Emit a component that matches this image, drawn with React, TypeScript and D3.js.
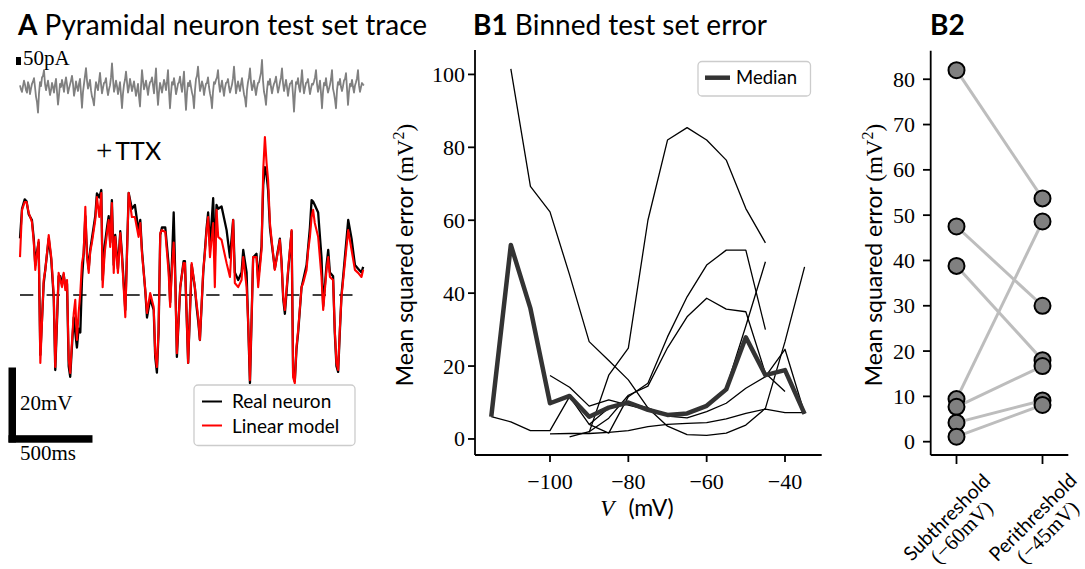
import React from 'react';
import * as d3 from 'd3';

const SANS = "Lato, 'DejaVu Sans', sans-serif";
const SERIF = "'Liberation Serif', 'DejaVu Serif', serif";

// ---------- Panel A: test set trace ----------
const traceDurationMs = 2048;
const restMv = -70;
const traceTimeMs = [
  0, 12, 28, 39, 52, 71, 82, 91, 99, 111, 121, 141, 151, 171, 186, 201, 210, 230, 240, 250,
  260, 270, 280, 290, 299, 309, 320, 329, 339, 349, 359, 369, 379, 389, 399, 409, 418, 428, 448, 458,
  472, 484, 492, 504, 518, 528, 537, 547, 558, 567, 583, 597, 607, 627, 647, 666, 684, 706, 716, 726,
  746, 756, 775, 796, 805, 815, 825, 835, 845, 865, 885, 894, 904, 915, 924, 934, 954, 974, 982, 1001,
  1022, 1041, 1051, 1061, 1071, 1091, 1101, 1111, 1120, 1131, 1150, 1160, 1170, 1180, 1200, 1230, 1250, 1269, 1279, 1299,
  1319, 1329, 1349, 1358, 1369, 1379, 1388, 1408, 1418, 1438, 1448, 1458, 1468, 1477, 1488, 1498, 1517, 1547, 1557, 1567,
  1577, 1596, 1617, 1626, 1636, 1646, 1656, 1676, 1686, 1706, 1716, 1726, 1736, 1745, 1755, 1775, 1795, 1805, 1825, 1835,
  1845, 1864, 1874, 1884, 1894, 1904, 1914, 1924, 1954, 1974, 1994, 2013, 2033, 2043,
];
const linearModelMv = [
  -59.9, -47.3, -45.2, -45.2, -48.1, -50.5, -55.9, -63.3, -59.9, -55.3, -88.1, -66.0, -63.3, -54.0, -59.9, -70.0, -89.2, -64.1, -66.0, -67.9,
  -64.1, -68.7, -66.0, -87.3, -90.8, -82.8, -74.8, -71.3, -82.0, -74.8, -69.5, -61.5, -58.8, -46.5, -59.9, -64.1, -58.5, -56.1, -50.0, -43.9,
  -49.2, -42.8, -67.9, -58.8, -53.5, -50.0, -57.2, -45.5, -64.1, -54.5, -64.1, -53.5, -59.9, -75.9, -42.8, -49.2, -49.2, -54.5, -50.8, -58.8,
  -68.7, -74.8, -69.5, -73.2, -85.5, -89.2, -79.3, -53.5, -52.7, -53.2, -64.1, -73.2, -63.3, -56.0, -66.0, -85.5, -67.9, -61.5, -61.5, -88.1,
  -61.5, -67.9, -72.1, -75.9, -82.0, -63.3, -58.8, -52.7, -49.2, -59.9, -50.8, -67.9, -47.3, -54.5, -55.3, -61.5, -65.2, -50.0, -66.8, -67.9,
  -66.0, -59.9, -67.9, -76.7, -92.7, -75.9, -59.9, -59.9, -67.9, -58.0, -36.7, -27.9, -34.8, -39.3, -50.8, -55.3, -63.3, -55.3, -61.5, -70.5,
  -74.0, -63.3, -52.7, -91.9, -93.5, -83.9, -79.3, -67.9, -66.8, -63.3, -58.0, -54.5, -49.2, -47.3, -50.8, -54.5, -65.2, -74.0, -63.3, -59.9,
  -65.2, -66.0, -79.3, -88.1, -90.0, -79.3, -70.5, -66.0, -52.7, -58.0, -63.3, -64.1, -65.2, -63.3,
];
const realNeuronMv = [
  -54.9, -47.0, -44.5, -45.0, -48.5, -50.0, -55.0, -62.0, -59.0, -56.0, -86.0, -67.0, -63.0, -55.0, -60.5, -71.0, -90.0, -65.0, -65.0, -67.0,
  -64.5, -68.0, -67.0, -89.0, -91.8, -84.0, -76.0, -80.0, -84.0, -79.0, -80.0, -66.0, -59.0, -49.0, -59.0, -63.0, -58.0, -55.0, -49.0, -42.9,
  -44.0, -42.0, -66.0, -57.0, -52.0, -49.0, -56.0, -44.7, -62.0, -54.0, -63.0, -53.0, -59.0, -74.0, -42.8, -47.0, -46.0, -53.0, -50.0, -58.0,
  -69.0, -76.0, -71.0, -74.0, -86.5, -90.7, -80.0, -54.0, -52.0, -52.0, -62.0, -72.0, -62.0, -48.0, -64.0, -86.5, -68.0, -61.0, -61.0, -88.1,
  -62.0, -68.0, -73.0, -77.0, -82.0, -64.0, -58.0, -52.0, -48.0, -57.0, -44.2, -60.0, -46.0, -47.0, -46.4, -52.7, -60.0, -50.0, -64.0, -66.0,
  -64.0, -58.0, -64.0, -77.0, -93.5, -76.0, -60.0, -59.0, -66.0, -57.0, -40.7, -35.9, -38.0, -42.0, -52.0, -56.0, -63.0, -55.0, -61.0, -71.0,
  -75.0, -64.0, -53.0, -91.0, -93.0, -84.5, -80.0, -68.0, -66.0, -62.0, -57.0, -52.0, -44.7, -45.1, -46.0, -48.0, -60.0, -73.0, -62.0, -58.0,
  -64.0, -65.0, -80.0, -89.0, -90.5, -80.0, -70.0, -65.0, -50.0, -55.0, -62.0, -63.0, -64.0, -62.5,
];
// injected current (pA), evenly sampled across the trace
const currentPA = [
  10, -15, -30, 5, 40, 15, -20, -35, 30, 10, -45, -10, 20, 35, 55, 0, -60, -95, -160, -40,
  30, 5, 60, 70, 105, 20, -20, 10, 40, -5, -50, -20, 25, 0, -35, 15, 50, -30, -110, -50,
  20, 0, 45, 10, -30, 25, 60, 15, -40, -10, 15, 40, 70, 20, -55, -20, 35, 0, -25, 20,
  50, -40, -130, -30, 20, 70, 118, 40, -10, 15, 45, -20, -60, -80, -115, -25, 30, 5, -20, 35,
  88, 20, -40, -5, 25, 30, 55, -10, -50, -15, 10, 60, 148, 50, -30, 0, 40, 5, -45, -10,
  30, -50, -132, -40, 15, 45, 96, 30, -35, 0, 50, 15, -25, 5, 35, -10, -55, -20, 20, -60,
  -122, 0, 106, 40, -15, 10, 40, -5, -50, 0, 30, 35, 60, 10, -40, 40, 117, -20, -112, -30,
  25, 0, -35, 5, 45, 20, -20, 35, 106, -30, -133, -40, 30, 15, 55, 10, -45, -15, 20, 30,
  65, 10, -30, 30, 96, -40, -143, -35, 25, 5, 40, 0, -35, -60, -133, -20, 50, 70, 127, 45,
  -25, 0, 35, 10, -50, -10, 20, 25, 60, 0, -40, -70, -133, -30, 30, 20, 45, 60, 106, 20,
  -30, 5, 40, -10, -55, -5, 25, 30, 50, 0, -35, -10, 15, 55, 127, 40, -40, 0, 35, 5,
  -25, 20, 55, 0, -45, -70, -123, -20, 30, 60, 117, 30, -20, 5, 40, -10, -50, -5, 25, 30,
  60, 90, 169, 40, -30, -60, -112, -20, 35, 15, 50, 0, -40, -5, 20, 35, 65, 10, -35, -5,
  30, 60, 117, 25, -25, 10, 45, 0, -55, -10, 20, 25, 40, -50, -154, -40, 30, 20, 55, 0,
  -30, 30, 106, 20, -40, -5, 25, 30, 50, 0, -45, -10, 20, 15, 35, 60, 106, 20, -30, 0,
  40, -40, -133, -30, 25, 10, 55, 0, -35, -10, 15, 50, 106, -10, -40, -80, -133, -20, 30, 15,
  50, 0, -25, 5, 40, 50, 86, -10, -112, -30, 20, 5, 45, 0, -35, 10, 30, 55, 106, 10,
  -30, 0, 25, 15, 10,
];
const scaleBarMv = 20;
const scaleBarMs = 500;
const scaleBarPA = 50;

// ---------- Panel B1: binned test set error ----------
const binCentersMv = [-115, -110, -105, -100, -95, -90, -85, -80, -75, -70, -65, -60, -55, -50, -45, -40, -35];
const medianError = [6.1, 53.2, 35.8, 9.8, 11.8, 6.1, 8.6, 10.0, 8.0, 6.6, 7.0, 9.1, 13.6, 27.9, 17.5, 18.9, 6.9];
const cell1Error = [null, 101.5, 69.3, 62.3, 45.0, 26.7, 21.5, 16.2, 8.5, 3.5, 1.2, 1.0, 1.6, 3.8, 8.4, 26.7, 47.2];
const cell2Error = [null, null, null, null, null, 1.8, 17.5, 24.9, 60.0, 82.0, 85.4, 82.0, 76.5, 63.2, 53.8, null, null];
const cell3Error = [null, null, null, null, 0.6, 2.0, 5.7, 12.0, 14.5, 25.0, 33.5, 38.6, 35.6, 34.9, 18.0, 13.0, null];
const cell4Error = [6.1, 4.7, 2.3, 2.3, 11.6, 4.0, 1.6, 11.6, 15.3, 28.0, 39.0, 47.7, 51.8, 51.8, 30.0, null, null];
const cell5Error = [null, null, null, null, null, 4.0, 8.5, 10.0, 8.5, 6.3, 5.8, 7.5, 9.8, 13.9, 17.1, 24.6, 7.0];
const cell6Error = [null, null, null, 17.4, 14.2, 9.0, 10.7, 9.3, 8.0, 6.5, 7.0, 9.3, 14.0, 31.0, 48.6, null, null];
const cell7Error = [null, null, null, 1.4, 1.5, 1.5, 1.8, 2.3, 3.4, 4.0, 4.3, 4.5, 5.5, 7.0, 8.2, 7.2, 7.2];
const cellErrors = [cell1Error, cell2Error, cell3Error, cell4Error, cell5Error, cell6Error, cell7Error];
const b1XTicks = [-100, -80, -60, -40];
const b1YTicks = [0, 20, 40, 60, 80, 100];

// ---------- Panel B2: sub vs perithreshold ----------
const b2Categories = ['Subthreshold', 'Perithreshold'];
const b2CategorySub = ['(\u221260mV)', '(\u221245mV)'];
const subthresholdError = [82.0, 47.5, 38.8, 9.4, 7.7, 4.2, 1.1];
const perithresholdError = [53.7, 30.0, 18.0, 48.6, 16.7, 9.1, 8.1];
const b2YTicks = [0, 10, 20, 30, 40, 50, 60, 70, 80];

const fmt = (v: number) => (v < 0 ? '\u2212' + Math.abs(v) : String(v));

export default function App() {
  // Panel A scales
  const tX = d3.scaleLinear().domain([0, traceDurationMs]).range([20, 364]);
  const vY = d3.scaleLinear().domain([restMv, restMv + 20]).range([295, 220]);
  const iX = d3.scaleLinear().domain([0, currentPA.length - 1]).range([20, 364]);
  const iY = d3.scaleLinear().domain([0, 50]).range([87, 79]);
  const vLine = (vals: number[]) =>
    d3.line<number>().x((_, i) => tX(traceTimeMs[i])).y((d) => vY(d))(vals) || '';
  const iLine = d3.line<number>().x((_, i) => iX(i)).y((d) => iY(d))(currentPA) || '';
  const barV = vY(restMv) - vY(restMv + scaleBarMv);
  const barT = tX(scaleBarMs) - tX(0);
  const barI = iY(0) - iY(scaleBarPA);

  // Panel B1 scales
  const bx = d3.scaleLinear().domain([-119.15, -30.63]).range([475, 821.7]);
  const by = d3.scaleLinear().domain([-4.4, 106.7]).range([455, 50]);
  const errLine = d3
    .line<number | null>()
    .defined((d) => d !== null)
    .x((_, i) => bx(binCentersMv[i]))
    .y((d) => by(d as number));

  // Panel B2 scales
  const cx = d3.scaleLinear().domain([-0.3, 1.3]).range([930.7, 1068.3]);
  const cy = d3.scaleLinear().domain([-2.94, 86.3]).range([455, 50.7]);

  const axisW = 1.8;
  const tickFont = 22;

  return (
    <svg
      width={1085}
      height={569}
      style={{ position: 'absolute', left: 0, top: 0, background: '#fff' }}
    >
      <rect x={0} y={0} width={1085} height={569} fill="#fff" />
      {/* ---------------- Panel A ---------------- */}
      <text x={18} y={35} fontFamily={SANS} fontSize={28} fill="#000">
        <tspan fontWeight="bold">A</tspan>
        <tspan> Pyramidal neuron test set trace</tspan>
      </text>
      <rect x={16} y={iY(0) - 22 - barI} width={5} height={barI} fill="#000" />
      <text x={23} y={65} fontFamily={SERIF} fontSize={21}>50pA</text>
      <path d={iLine} fill="none" stroke="#808080" strokeWidth={1.8} strokeLinejoin="round" />
      <text x={96} y={160} fill="#000">
        <tspan fontFamily={SERIF} fontSize={29}>+</tspan>
        <tspan fontFamily={SANS} fontSize={25} dx={3}>TTX</tspan>
      </text>
      <line
        x1={tX(0)}
        x2={tX(1992)}
        y1={vY(restMv)}
        y2={vY(restMv)}
        stroke="#000"
        strokeWidth={1.3}
        strokeDasharray="13.3 13.3"
      />
      <path d={vLine(realNeuronMv)} fill="none" stroke="#000" strokeWidth={2.3} strokeLinejoin="round" />
      <path d={vLine(linearModelMv)} fill="none" stroke="#ff0000" strokeWidth={2.1} strokeLinejoin="round" />
      {/* scale bars */}
      <rect x={8.5} y={442.5 - barV} width={7.5} height={barV} fill="#000" />
      <rect x={8.5} y={435.2} width={barT} height={7.5} fill="#000" />
      <text x={20} y={410} fontFamily={SERIF} fontSize={21}>20mV</text>
      <text x={20} y={460} fontFamily={SERIF} fontSize={21}>500ms</text>
      {/* legend */}
      <rect x={194} y={385} width={161} height={60.5} rx={4} fill="#fff" fillOpacity={0.85} stroke="#cccccc" strokeWidth={1.3} />
      <line x1={202} x2={222} y1={401.5} y2={401.5} stroke="#000" strokeWidth={2} />
      <text x={232} y={408} fontFamily={SANS} fontSize={19}>Real neuron</text>
      <line x1={202} x2={222} y1={425.5} y2={425.5} stroke="#ff0000" strokeWidth={2} />
      <text x={232} y={433} fontFamily={SANS} fontSize={19}>Linear model</text>

      {/* ---------------- Panel B1 ---------------- */}
      <text x={473} y={35} fontFamily={SANS} fontSize={28} fill="#000">
        <tspan fontWeight="bold">B1</tspan>
        <tspan> Binned test set error</tspan>
      </text>
      {cellErrors.map((c, k) => (
        <path key={k} d={errLine(c) || ''} fill="none" stroke="#000" strokeWidth={1.3} strokeLinejoin="round" />
      ))}
      <path d={errLine(medianError) || ''} fill="none" stroke="#333333" strokeWidth={4.5} strokeLinejoin="round" />
      <line x1={475} x2={475} y1={50} y2={455} stroke="#000" strokeWidth={axisW} />
      <line x1={475} x2={821.7} y1={455} y2={455} stroke="#000" strokeWidth={axisW} />
      {b1XTicks.map((t) => (
        <g key={t}>
          <line x1={bx(t)} x2={bx(t)} y1={455} y2={462} stroke="#000" strokeWidth={axisW} />
          <text x={bx(t)} y={489} textAnchor="middle" fontFamily={SERIF} fontSize={tickFont}>
            {fmt(t)}
          </text>
        </g>
      ))}
      {b1YTicks.map((t) => (
        <g key={t}>
          <line x1={468} x2={475} y1={by(t)} y2={by(t)} stroke="#000" strokeWidth={axisW} />
          <text x={465} y={by(t) + 7.5} textAnchor="end" fontFamily={SERIF} fontSize={tickFont}>
            {fmt(t)}
          </text>
        </g>
      ))}
      <text transform="translate(413,255) rotate(-90)" textAnchor="middle" fontSize={23}>
        <tspan fontFamily={SANS}>Mean squared error </tspan>
        <tspan fontFamily={SERIF}>(mV</tspan>
        <tspan fontFamily={SERIF} fontSize={16} dy={-9}>2</tspan>
        <tspan fontFamily={SERIF} dy={9}>)</tspan>
      </text>
      <text x={637} y={516} textAnchor="middle" fontSize={23}>
        <tspan fontFamily={SERIF} fontStyle="italic">V</tspan>
        <tspan fontFamily={SANS} dx={14}>(mV)</tspan>
      </text>
      {/* legend */}
      <rect x={698} y={61.5} width={112.5} height={34.5} rx={4} fill="#fff" fillOpacity={0.85} stroke="#cccccc" strokeWidth={1.3} />
      <line x1={705} x2={730} y1={77.7} y2={77.7} stroke="#333333" strokeWidth={4.5} />
      <text x={736} y={84} fontFamily={SANS} fontSize={18.5}>Median</text>

      {/* ---------------- Panel B2 ---------------- */}
      <text x={930} y={35} fontFamily={SANS} fontSize={28} fontWeight="bold">B2</text>
      {subthresholdError.map((s, k) => (
        <line
          key={k}
          x1={cx(0)}
          x2={cx(1)}
          y1={cy(s)}
          y2={cy(perithresholdError[k])}
          stroke="#bdbdbd"
          strokeWidth={3}
        />
      ))}
      {subthresholdError.map((s, k) => (
        <circle key={'s' + k} cx={cx(0)} cy={cy(s)} r={8} fill="#808080" stroke="#000" strokeWidth={2} />
      ))}
      {perithresholdError.map((p, k) => (
        <circle key={'p' + k} cx={cx(1)} cy={cy(p)} r={8} fill="#808080" stroke="#000" strokeWidth={2} />
      ))}
      <line x1={930.7} x2={930.7} y1={50.7} y2={455} stroke="#000" strokeWidth={axisW} />
      <line x1={930.7} x2={1068.3} y1={455} y2={455} stroke="#000" strokeWidth={axisW} />
      {b2YTicks.map((t) => (
        <g key={t}>
          <line x1={923} x2={930.7} y1={cy(t)} y2={cy(t)} stroke="#000" strokeWidth={axisW} />
          <text x={915} y={cy(t) + 7.5} textAnchor="end" fontFamily={SERIF} fontSize={tickFont}>
            {fmt(t)}
          </text>
        </g>
      ))}
      {b2Categories.map((c, k) => (
        <g key={c}>
          <line x1={cx(k)} x2={cx(k)} y1={455} y2={464} stroke="#000" strokeWidth={axisW} />
          <g transform={`translate(${cx(k) - 2},525) rotate(-45)`}>
            <text x={0} y={-4} textAnchor="middle" fontFamily={SANS} fontSize={19.5}>
              {c}
            </text>
            <text x={0} y={17} textAnchor="middle" fontFamily={SERIF} fontSize={21}>
              {b2CategorySub[k]}
            </text>
          </g>
        </g>
      ))}
      <text transform="translate(882,255) rotate(-90)" textAnchor="middle" fontSize={23}>
        <tspan fontFamily={SANS}>Mean squared error </tspan>
        <tspan fontFamily={SERIF}>(mV</tspan>
        <tspan fontFamily={SERIF} fontSize={16} dy={-9}>2</tspan>
        <tspan fontFamily={SERIF} dy={9}>)</tspan>
      </text>
    </svg>
  );
}
